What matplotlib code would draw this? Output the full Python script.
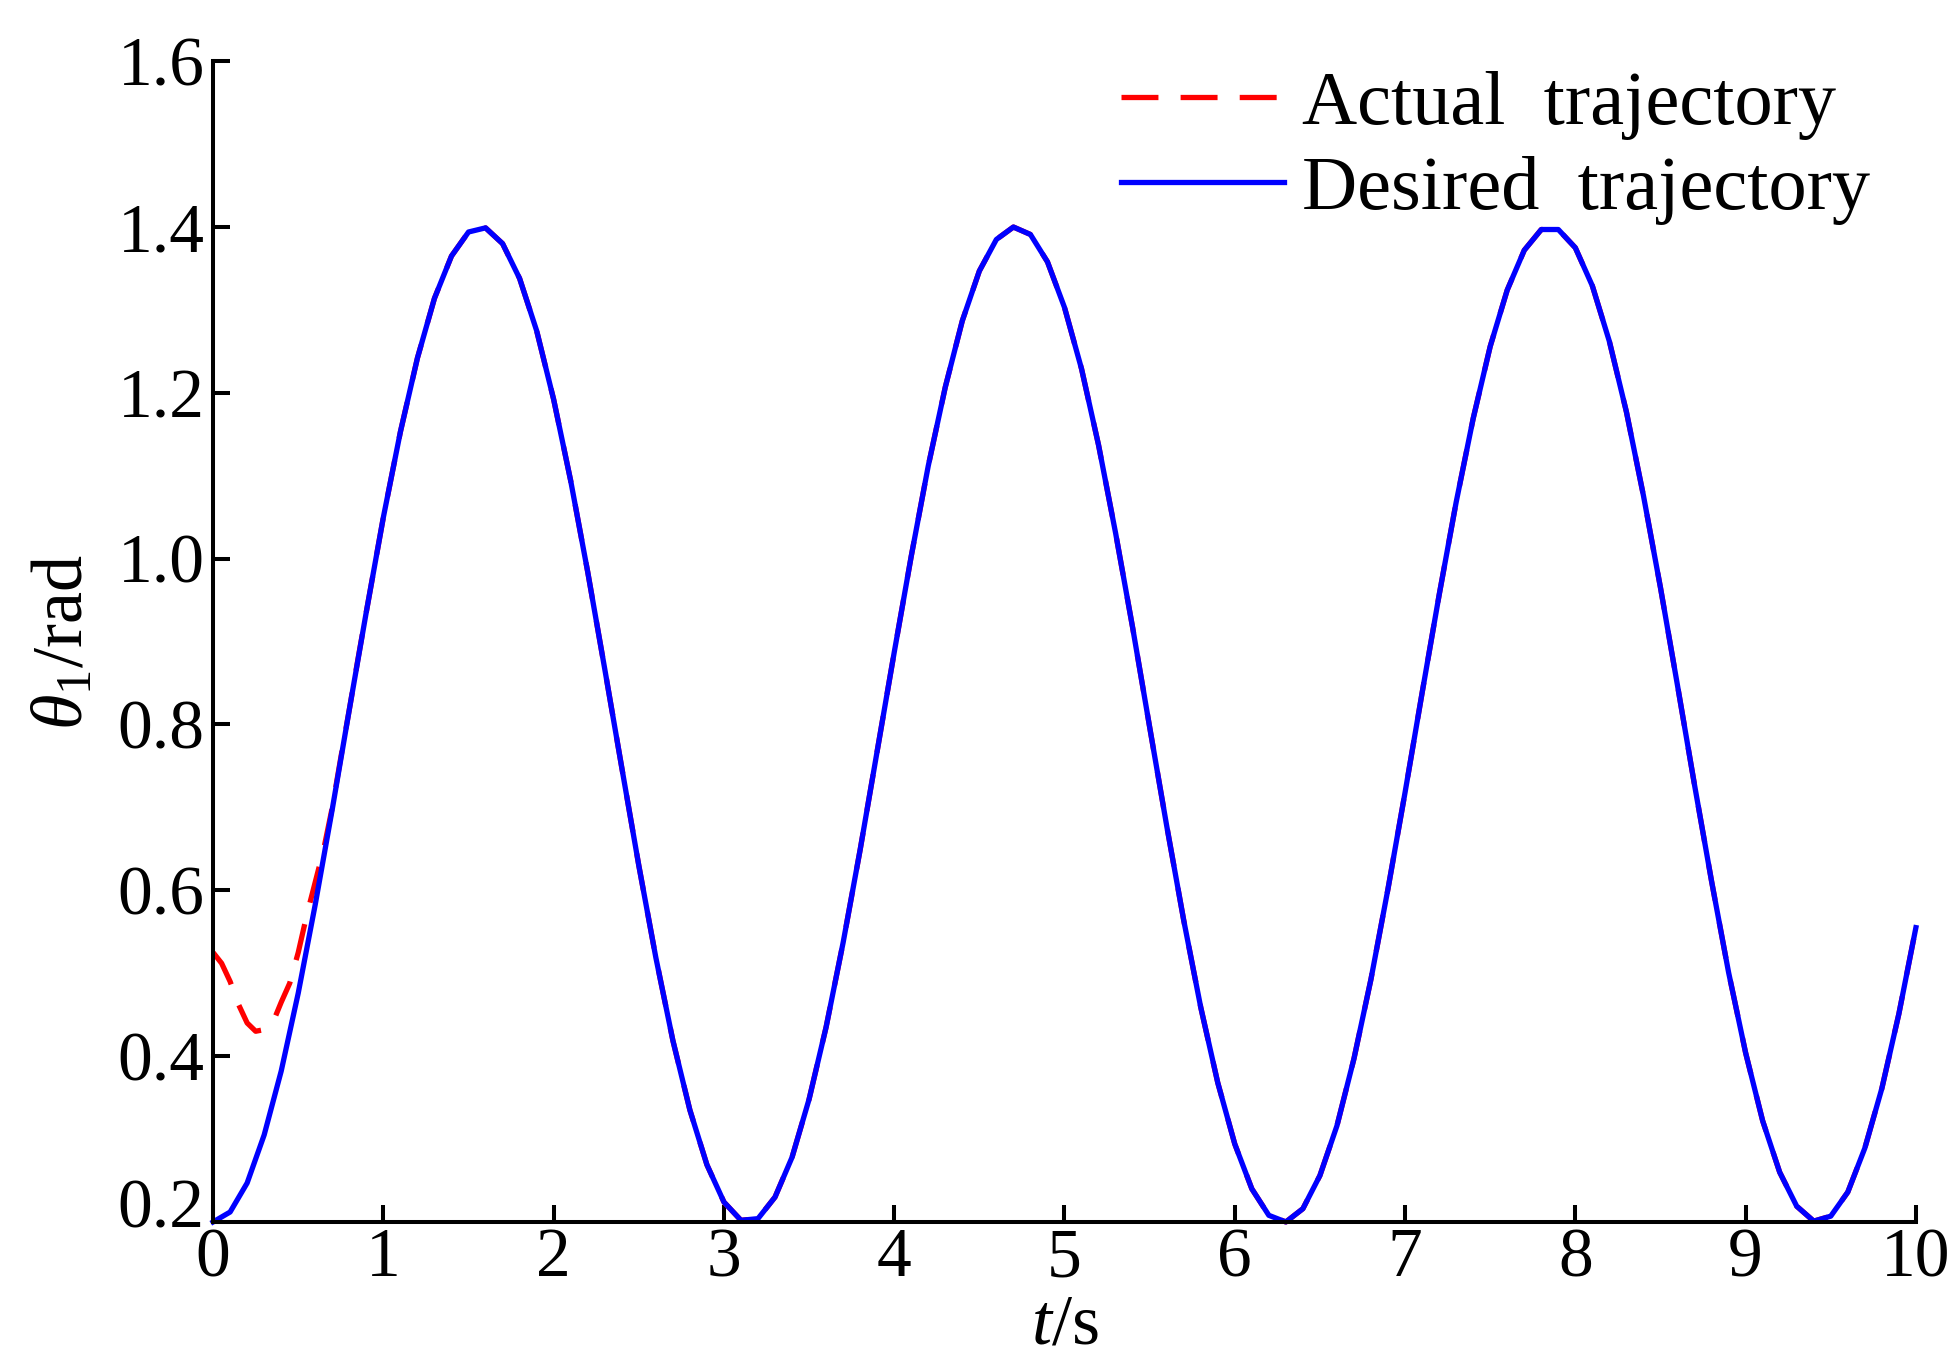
import matplotlib
matplotlib.use("Agg")
import matplotlib.pyplot as plt
import matplotlib.transforms as mtransforms
import numpy as np

# joint angle data (t in s, theta in rad)
t_desired = np.linspace(0, 10, 101)
theta_desired = [
    0.200, 0.212, 0.247, 0.305, 0.382, 0.476, 0.583, 0.698, 0.818, 0.936,
    1.050, 1.153, 1.242, 1.314, 1.365, 1.394, 1.399, 1.380, 1.338, 1.275,
    1.192, 1.094, 0.984, 0.867, 0.748, 0.630, 0.519, 0.419, 0.335, 0.269,
    0.224, 0.202, 0.204, 0.230, 0.278, 0.348, 0.435, 0.537, 0.649, 0.768,
    0.887, 1.003, 1.112, 1.207, 1.287, 1.347, 1.385, 1.400, 1.391, 1.358,
    1.303, 1.229, 1.137, 1.031, 0.917, 0.797, 0.678, 0.564, 0.459, 0.368,
    0.294, 0.240, 0.208, 0.200, 0.216, 0.256, 0.316, 0.397, 0.493, 0.602,
    0.718, 0.838, 0.956, 1.068, 1.169, 1.256, 1.324, 1.372, 1.397, 1.397,
    1.375, 1.329, 1.262, 1.177, 1.076, 0.965, 0.847, 0.727, 0.611, 0.501,
    0.404, 0.322, 0.260, 0.219, 0.201, 0.207, 0.236, 0.289, 0.361, 0.451,
    0.555,
]

# actual trajectory during the first second (then it follows the desired one)
t_start = np.linspace(0, 1.0, 21)
theta_start = [
    0.525, 0.512, 0.490, 0.462, 0.440, 0.430, 0.432, 0.440, 0.465, 0.488,
    0.525, 0.570, 0.610, 0.650, 0.700, 0.760, 0.818, 0.878, 0.936, 0.993,
    1.050,
]

t_actual = np.concatenate([t_start, t_desired[11:]])
theta_actual = np.concatenate([theta_start, theta_desired[11:]])

x_ticks = list(range(0, 11))
y_ticks = [0.2, 0.4, 0.6, 0.8, 1.0, 1.2, 1.4, 1.6]

plt.rcParams['font.family'] = ['Liberation Serif', 'DejaVu Serif']
plt.rcParams['mathtext.fontset'] = 'custom'
plt.rcParams['mathtext.rm'] = 'Liberation Serif'
plt.rcParams['mathtext.it'] = 'Liberation Serif:italic'

fig = plt.figure(figsize=(19.55, 13.6), dpi=100)
ax = fig.add_axes([0.109, 0.1015, 0.871, 0.8535])

ax.plot(t_actual, theta_actual, color='#ff0000', lw=3.8, dashes=(7, 4.2),
        label='Actual  trajectory', clip_on=False)
ax.plot(t_desired, theta_desired, color='#0000ff', lw=3.8,
        label='Desired  trajectory', clip_on=False)

ax.set_xlim(0, 10)
ax.set_ylim(0.2, 1.6)
ax.set_xticks(x_ticks)
ax.set_yticks(y_ticks)
ax.set_yticklabels(['%.1f' % v for v in y_ticks])

for s in ['top', 'right']:
    ax.spines[s].set_visible(False)
for s in ['left', 'bottom']:
    ax.spines[s].set_linewidth(2.9)

ax.tick_params(direction='in', length=12, width=2.9, labelsize=50)
ax.tick_params(axis='x', pad=4)
ax.tick_params(axis='y', pad=6)

ax.set_xlabel(r'$t$/s', fontsize=52)
ax.set_ylabel(r'$\theta_1$/rad', fontsize=52)
ax.xaxis.set_label_coords(0.5, -0.062)
ax.yaxis.set_label_coords(-0.068, 0.5)

leg = ax.legend(loc='upper right', bbox_to_anchor=(0.973, 0.992), frameon=False,
                fontsize=55, handlelength=2.14, handletextpad=0.23,
                labelspacing=0.2, borderaxespad=0, borderpad=0)

# the bottom y label sits a bit above its tick
lab = ax.get_yticklabels()[0]
lab.set_transform(lab.get_transform() +
                  mtransforms.ScaledTranslation(0, 0.19, fig.dpi_scale_trans))

fig.savefig('out.png', dpi=100)
